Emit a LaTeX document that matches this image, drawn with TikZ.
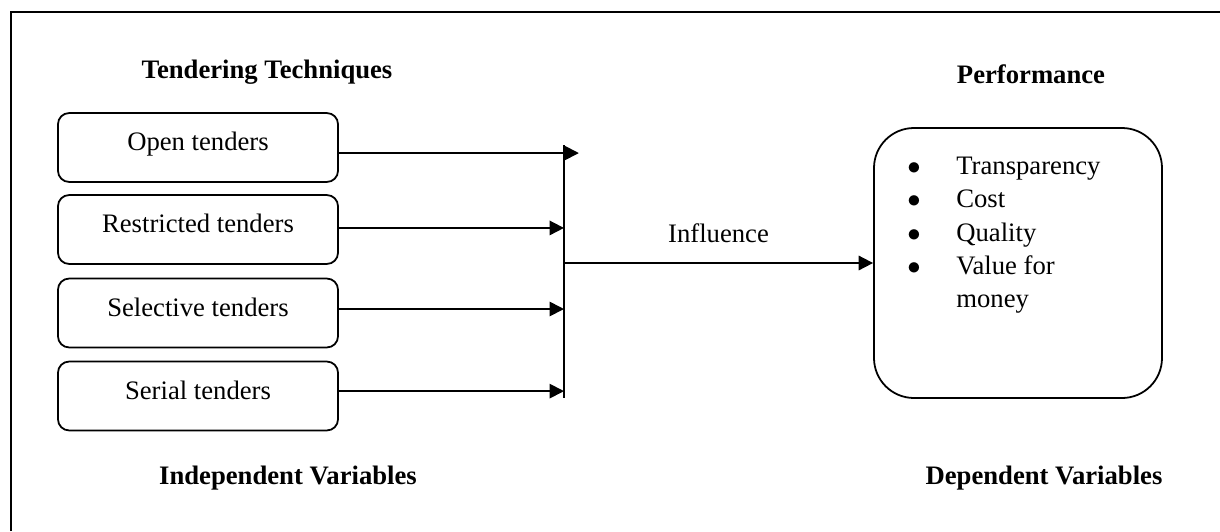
\documentclass[tikz,border=0pt,12pt]{standalone}
\usepackage{fontspec}
\setmainfont{Liberation Serif}
\usetikzlibrary{arrows.meta}

\tikzset{
  caixa/.style={draw, line width=0.8pt, rounded corners=5pt, minimum width=126pt, minimum height=31pt, text height=8pt, text depth=5pt, inner sep=0pt},
  seta/.style={line width=0.8pt, -{Triangle[length=6.5pt,width=6.5pt]}},
  titulo/.style={font=\bfseries},
}

\begin{document}
\begin{tikzpicture}[x=0.45pt, y=-0.45pt]
  \useasboundingbox (0,0) rectangle (1220,531);

  % Moldura (so o topo e o lado esquerdo aparecem)
  \draw[line width=0.9pt] (10.7,531) |- (1220,12.3);

  % Titulos
  \node[titulo] (tecnicas) at (267,72) {Tendering Techniques};
  \node[titulo] (desempenho) at (1031,74) {Performance};
  \node[titulo] (indep) at (288,478) {Independent Variables};
  \node[titulo] (dep) at (1044,478) {Dependent Variables};

  % Caixas da esquerda
  \node[caixa] (aberto) at (198,147.5) {Open tenders};
  \node[caixa] (restrito) at (198,229.5) {Restricted tenders};
  \node[caixa] (seletivo) at (198,313) {Selective tenders};
  \node[caixa] (serial) at (198,396) {Serial tenders};

  % Barra vertical
  \coordinate (btopo) at (564,145);
  \coordinate (bbase) at (564,398);
  \draw[line width=1.2pt] (btopo) -- (bbase);

  % Setas ate a barra
  \draw[seta] ([yshift=-2.5pt]aberto.east) -- ++(240,0);
  \draw[seta] ([yshift=0.7pt]restrito.east) -- ([yshift=0.7pt]restrito.east -| bbase);
  \draw[seta] ([yshift=1.8pt]seletivo.east) -- ([yshift=1.8pt]seletivo.east -| bbase);
  \draw[seta] ([yshift=2.2pt]serial.east) -- ([yshift=2.2pt]serial.east -| bbase);

  % Caixa da direita
  \node[draw, line width=0.8pt, rounded corners=18pt, minimum width=129.6pt, minimum height=121.5pt] (desemp) at (1018,263) {};
  \node[anchor=north west, inner sep=0pt] (lista) at (907,151) {%
    \renewcommand{\arraystretch}{1.03}%
    \begin{tabular}{@{}l@{\hspace{16pt}}l@{}}
      $\bullet$ & Transparency\\
      $\bullet$ & Cost\\
      $\bullet$ & Quality\\
      $\bullet$ & Value for\\
                & money
    \end{tabular}};

  % Influencia
  \draw[seta] (desemp.west -| bbase) -- (desemp.west) node[midway, above=4.5pt] (infl) {Influence};
\end{tikzpicture}
\end{document}
